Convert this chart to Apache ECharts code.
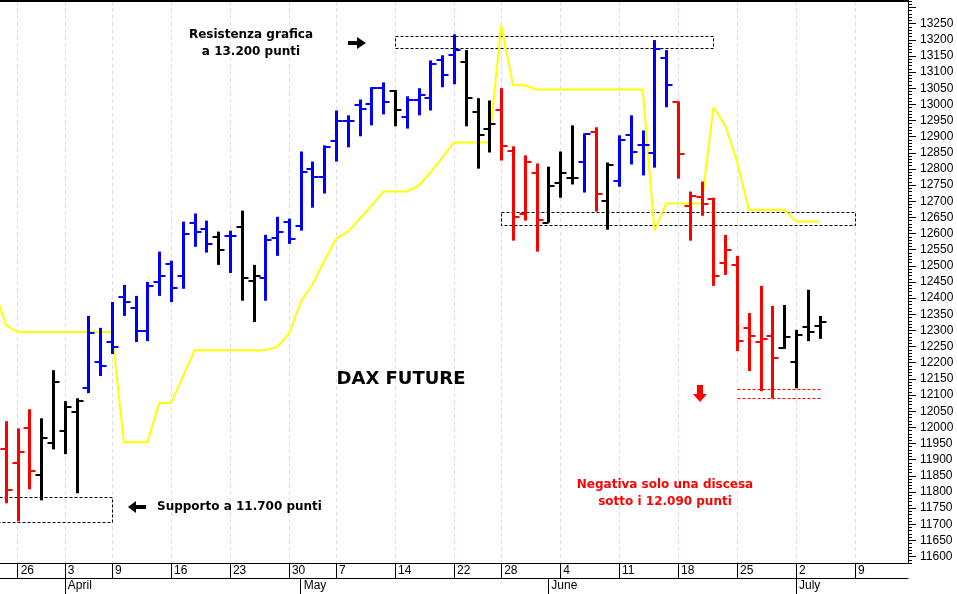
<!DOCTYPE html>
<html><head><meta charset="utf-8">
<script src="https://cdn.jsdelivr.net/npm/echarts@6/dist/echarts.min.js"></script>
<style>html,body{margin:0;padding:0;background:#fff}#c{width:957px;height:594px}</style>
</head><body><div id="c"></div>
<script>
// trading days (first one only feeds the indicator line, it lies left of the visible window)
const dates = [
 '2018-03-22','2018-03-23',
 '2018-03-26','2018-03-27','2018-03-28','2018-03-29',
 '2018-04-03','2018-04-04','2018-04-05','2018-04-06',
 '2018-04-09','2018-04-10','2018-04-11','2018-04-12','2018-04-13',
 '2018-04-16','2018-04-17','2018-04-18','2018-04-19','2018-04-20',
 '2018-04-23','2018-04-24','2018-04-25','2018-04-26','2018-04-27',
 '2018-04-30','2018-05-02','2018-05-03','2018-05-04',
 '2018-05-07','2018-05-08','2018-05-09','2018-05-10','2018-05-11',
 '2018-05-14','2018-05-15','2018-05-16','2018-05-17','2018-05-18',
 '2018-05-22','2018-05-23','2018-05-24','2018-05-25',
 '2018-05-28','2018-05-29','2018-05-30','2018-05-31','2018-06-01',
 '2018-06-04','2018-06-05','2018-06-06','2018-06-07','2018-06-08',
 '2018-06-11','2018-06-12','2018-06-13','2018-06-14','2018-06-15',
 '2018-06-18','2018-06-19','2018-06-20','2018-06-21','2018-06-22',
 '2018-06-25','2018-06-26','2018-06-27','2018-06-28','2018-06-29',
 '2018-07-02','2018-07-03','2018-07-04','2018-07-05','2018-07-06',
 '2018-07-09','2018-07-10','2018-07-11','2018-07-12','2018-07-13'
];
const opens = [null,
 11932,11889,11997,11851,11951,11988,12047,12121,12202,12264,
 12404,12370,12298,12450,12506,12469,12634,12615,12590,12593,
 12621,12454,12463,12587,12637,12624,12801,12776,12888,12950,
 12997,13000,13050,13040,12962,13012,13019,13136,13152,13130,
 12975,12925,12981,12857,12662,12786,12634,12755,12773,12823,
 12913,12702,12764,12904,12873,12848,13143,13006,12686,12714,
 12708,12509,12503,12308,12264,12283,12246,12202,12311,12314,
 null,null,null,null,null,null,null];
const highs = [null,
 12019,11997,12056,12028,12177,12081,12090,12345,12308,12388,
 12441,12407,12450,12544,12516,12637,12662,12640,12606,12609,
 12671,12503,12596,12652,12646,12854,12823,12873,12981,12966,
 13015,13053,13068,13044,13025,13050,13136,13152,13217,13168,
 13019,13012,13050,12870,12842,12817,12807,12854,12935,12910,
 12929,12820,12904,12966,12919,13199,13168,13009,12730,12761,
 12711,12596,12531,12354,12438,12376,12379,12302,12426,12345,
 null,null,null,null,null,null,null];
const lows = [null,
 11765,11709,11808,11774,11932,11917,11796,12106,12159,12227,
 12345,12264,12267,12407,12388,12429,12559,12541,12503,12478,
 12392,12326,12392,12531,12568,12609,12680,12724,12823,12867,
 12901,12935,12969,12932,12925,12966,12981,13053,13062,12932,
 12801,12851,12826,12578,12640,12544,12634,12711,12752,12727,
 12668,12612,12745,12814,12780,12804,12991,12770,12578,12655,
 12438,12472,12236,12174,12112,12090,12243,12121,12267,12274,
 null,null,null,null,null,null,null];
const closes = [null,
 11805,11923,11864,11966,12140,12063,12081,12292,12190,12249,
 12388,12298,12438,12469,12432,12599,12606,12568,12550,12593,
 12463,12469,12580,12606,12584,12792,12776,12867,12950,12947,
 12987,13050,13006,12981,13012,13028,13124,13090,13168,13019,
 12904,12940,12870,12652,12820,12643,12748,12789,12773,12907,
 12724,12811,12891,12851,12873,13171,13059,12845,12717,12693,
 12469,12550,12267,12283,12274,12215,12280,12286,12295,12326,
 null,null,null,null,null,null,null];
// bar signal: u = bullish (blue), d = bearish (red), n = neutral (black)
const signals = [null,
 'd','d','d','n','n','n','n','u','u','u',
 'u','u','u','u','u','u','u','u','n','u',
 'n','n','u','u','u','u','u','u','u','u',
 'u','u','u','n','u','u','u','u','u','n',
 'n','n','d','d','d','d','n','n','n','u',
 'd','n','u','u','u','u','u','d','d','d',
 'd','d','d','d','d','d','n','n','n','n',
 null,null,null,null,null,null,null];
// yellow indicator line
const indicator = [12429,
 12317,12295,12295,12295,12295,12295,12295,12295,12295,12295,
 11954,11954,11954,12075,12075,12156,12239,12239,12239,12239,
 12239,12239,12239,12249,12289,12388,12444,12516,12584,12606,
 12646,12686,12730,12730,12730,12748,12789,12835,12882,12882,
 12882,12882,13245,13059,13059,13046,13046,13046,13046,13046,
 13046,13046,13046,13046,13046,12609,12693,12693,12693,12693,
 12991,12935,12823,12674,12674,12674,12674,12637,12637,12637,
 null,null,null,null,null,null,null];
// price zones (support / resistance boxes, dashed)
const zoneFrom   = ['2018-03-22','2018-05-14','2018-05-28','2018-06-25'];
const zoneTo     = ['2018-04-09','2018-06-21','2018-07-09','2018-07-04'];
const zoneTop    = [11785, 13211, 12666, 12120];
const zoneBottom = [11707, 13174, 12628, 12092];
const zoneKind   = ['box','box','box','lines'];
// axis ticks
const yTicks = [];  for (let v = 11600; v <= 13300; v += 50) yTicks.push(v);
const yLabels = []; for (let v = 11600; v <= 13250; v += 50) yLabels.push(v);
const monthNames = ['January','February','March','April','May','June','July','August','September','October','November','December'];

const colorOf = {u:'#0000ff', d:'#ff0000', n:'#000000'};
function isWeekStart(i){
  if (i <= 0) return false;
  const d = new Date(dates[i]+'T00:00:00Z'), p = new Date(dates[i-1]+'T00:00:00Z');
  return d.getUTCDay() < p.getUTCDay() || (d - p) >= 7*864e5;
}
function isMonthStart(i){ return i > 0 && dates[i].slice(5,7) !== dates[i-1].slice(5,7); }

const ohlc = [];
for (let i = 0; i < dates.length; i++) if (opens[i] != null) ohlc.push([i, opens[i], highs[i], lows[i], closes[i]]);
const zones = zoneFrom.map((f, k) => [dates.indexOf(f), dates.indexOf(zoneTo[k]), zoneTop[k], zoneBottom[k], k]);

const chart = echarts.init(document.getElementById('c'), null, {renderer:'canvas'});
const baseX = {type:'category', data: dates, min: 1, boundaryGap: true};
const lblFont = {fontFamily:'"Liberation Sans", Arial, sans-serif', fontSize:12, color:'#000'};
chart.setOption({
  animation: false,
  backgroundColor: '#fff',
  grid: {left: 0, right: 49, top: 1, bottom: 31, containLabel: false},
  xAxis: [
    Object.assign({}, baseX, {
      position: 'bottom',
      axisLine: {show: true, onZero: false, lineStyle: {color: '#000', width: 1}},
      axisTick: {show: true, interval: (i) => isWeekStart(i), alignWithLabel: true, length: 15, lineStyle: {color: '#000'}},
      axisLabel: Object.assign({interval: (i) => isWeekStart(i), formatter: (v) => String(+v.slice(8)), align: 'left', padding: [0,0,0,3], margin: 2}, lblFont),
      splitLine: {show: true, interval: (i) => isWeekStart(i), alignWithLabel: true, lineStyle: {color: '#dadaf4', type: [4, 3], width: 1}}
    }),
    Object.assign({}, baseX, {
      position: 'bottom', offset: 15,
      axisLine: {show: true, onZero: false, lineStyle: {color: '#000', width: 1}},
      axisTick: {show: true, interval: (i) => isMonthStart(i), alignWithLabel: true, length: 16, lineStyle: {color: '#000'}},
      axisLabel: Object.assign({interval: (i) => isMonthStart(i), formatter: (v) => monthNames[+v.slice(5,7)-1], align: 'left', padding: [0,0,0,3], margin: 2}, lblFont),
      splitLine: {show: false}
    }),
    Object.assign({}, baseX, {
      position: 'top',
      axisLine: {show: true, onZero: false, lineStyle: {color: '#000', width: 2}},
      axisTick: {show: false}, axisLabel: {show: false}, splitLine: {show: false}
    })
  ],
  yAxis: [
    {type: 'value', position: 'right', min: 11580, max: 13320,
     axisLine: {show: true, onZero: false, lineStyle: {color: '#000'}},
     axisTick: {show: true, customValues: yTicks, length: 8, lineStyle: {color: '#000'}},
     axisLabel: Object.assign({customValues: yLabels, margin: 12, formatter: (v) => String(v)}, lblFont),
     splitLine: {show: false}},
    {type: 'value', position: 'right', min: 11580, max: 13320, interval: 10,
     axisLine: {show: false},
     axisTick: {show: true, length: 4, lineStyle: {color: '#000'}},
     axisLabel: {show: false}, splitLine: {show: false}}
  ],
  series: [
    {type: 'custom', name: 'zones', clip: true, z: 3,
     data: zones, encode: {x: [0, 1], y: [2, 3]},
     renderItem: function (params, api) {
       const a = api.coord([api.value(0), api.value(2)]);
       const b = api.coord([api.value(1), api.value(3)]);
       const k = api.value(4);
       const x0 = Math.round(a[0]) + 0.5, x1 = Math.round(b[0]) + 0.5;
       const y0 = Math.round(a[1]) + 0.5, y1 = Math.round(b[1]) + 0.5;
       const red = zoneKind[k] === 'lines';
       const st = {stroke: red ? '#ff0000' : '#000', lineWidth: 1, lineDash: [3, 2], fill: null};
       if (red) {
         return {type: 'group', children: [
           {type: 'line', shape: {x1: x0, y1: y0, x2: x1, y2: y0}, style: st},
           {type: 'line', shape: {x1: x0, y1: y1, x2: x1, y2: y1}, style: st}
         ]};
       }
       return {type: 'rect', shape: {x: x0, y: y0, width: x1 - x0, height: y1 - y0}, style: st};
     }},
    {type: 'line', name: 'indicator', data: indicator, showSymbol: false, symbol: 'none', z: 4,
     lineStyle: {color: '#ffff00', width: 2}, clip: true},
    {type: 'custom', name: 'DAX', z: 5,
     data: ohlc, encode: {x: 0, y: [1, 2, 3, 4]},
     renderItem: function (params, api) {
       const i = api.value(0);
       const x = Math.round(api.coord([i, api.value(1)])[0]) + 0.5;
       const yo = Math.round(api.coord([i, api.value(1)])[1]);
       const yh = api.coord([i, api.value(2)])[1];
       const yl = api.coord([i, api.value(3)])[1];
       const yc = Math.round(api.coord([i, api.value(4)])[1]);
       const col = colorOf[signals[i]];
       return {type: 'group', children: [
         {type: 'line', shape: {x1: x, y1: yh, x2: x, y2: yl}, style: {stroke: col, lineWidth: 3}},
         {type: 'line', shape: {x1: x - 6, y1: yo, x2: x, y2: yo}, style: {stroke: col, lineWidth: 2}},
         {type: 'line', shape: {x1: x, y1: yc, x2: x + 6, y2: yc}, style: {stroke: col, lineWidth: 2}}
       ]};
     }}
  ],
  graphic: [
    {type: 'text', x: 251, y: 26, z: 10, style: {text: 'Resistenza grafica\na 13.200 punti', font: 'bold 12px "DejaVu Sans", Verdana, sans-serif', fill: '#000', align: 'center', verticalAlign: 'top', lineHeight: 17}},
    {type: 'polygon', z: 10, shape: {points: [[348,41],[357,41],[357,37],[366,43],[357,49],[357,45],[348,45]]}, style: {fill: '#000'}},
    {type: 'polygon', z: 10, shape: {points: [[146,505],[136,505],[136,501],[128,507],[136,513],[136,509],[146,509]]}, style: {fill: '#000'}},
    {type: 'text', x: 157, y: 507, z: 10, style: {text: 'Supporto a 11.700 punti', font: 'bold 12px "DejaVu Sans", Verdana, sans-serif', fill: '#000', align: 'left', verticalAlign: 'middle'}},
    {type: 'text', x: 401, y: 379, z: 10, style: {text: 'DAX FUTURE', font: 'bold 18px "DejaVu Sans", Verdana, sans-serif', fill: '#000', align: 'center', verticalAlign: 'middle'}},
    {type: 'polygon', z: 10, shape: {points: [[697,385],[703,385],[703,394],[707,394],[700,402],[693,394],[697,394]]}, style: {fill: '#ff0000'}},
    {type: 'text', x: 665, y: 476, z: 10, style: {text: 'Negativa solo una discesa\nsotto i 12.090 punti', font: 'bold 12px "DejaVu Sans", Verdana, sans-serif', fill: '#ff0000', align: 'center', verticalAlign: 'top', lineHeight: 17}}
  ]
});
</script>
</body></html>
